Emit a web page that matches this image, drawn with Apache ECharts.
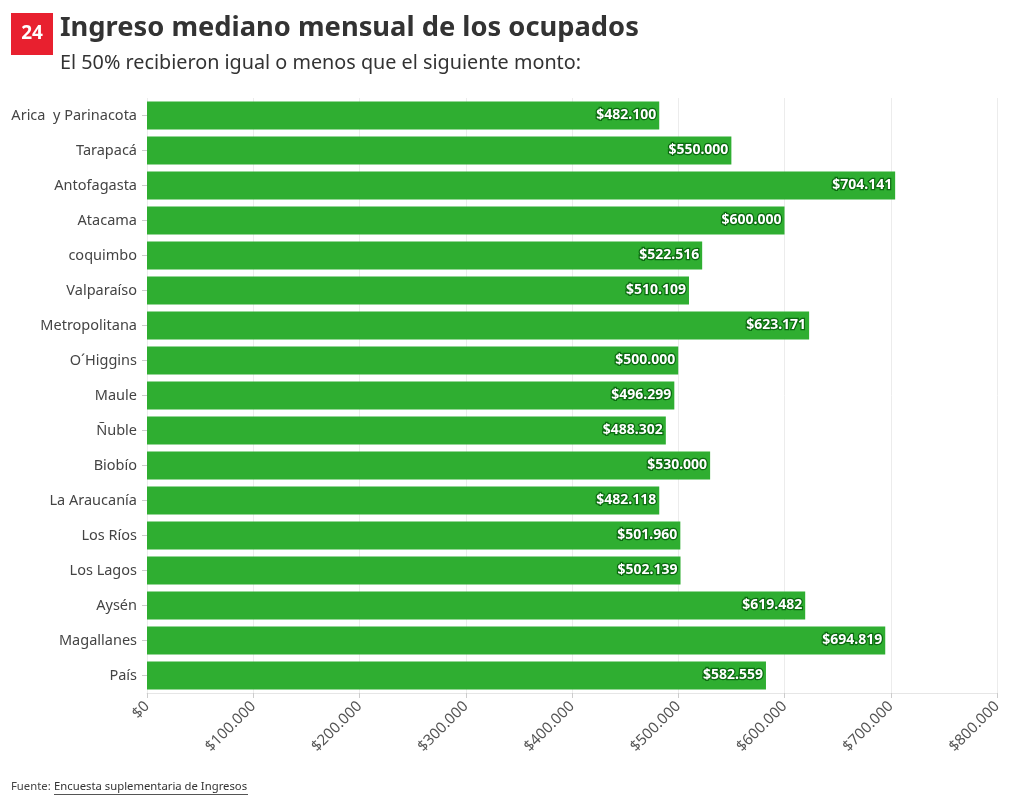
<!DOCTYPE html>
<html><head><meta charset="utf-8">
<script src="https://cdn.jsdelivr.net/npm/echarts@6/dist/echarts.min.js"></script>
<style>html,body{margin:0;padding:0;background:#fff}#c{width:1020px;height:804px}</style>
</head><body><div id="c"></div>
<script>
const categories = ["Arica  y Parinacota","Tarapacá","Antofagasta","Atacama","coquimbo","Valparaíso","Metropolitana","O´Higgins","Maule","Ñuble","Biobío","La Araucanía","Los Ríos","Los Lagos","Aysén","Magallanes","País"];
const values = [482100,550000,704141,600000,522516,510109,623171,500000,496299,488302,530000,482118,501960,502139,619482,694819,582559];
const xTicks = [0,100000,200000,300000,400000,500000,600000,700000,800000];

const FONT = '"Noto Sans", sans-serif';
function money(v){ return '$' + Math.round(v).toString().replace(/\B(?=(\d{3})+(?!\d))/g, '.'); }

const chart = echarts.init(document.getElementById('c'), null, {renderer:'canvas'});
chart.setOption({
  animation:false,
  backgroundColor:'#fff',
  textStyle:{fontFamily:FONT},
  grid:{left:147,right:23,top:98,bottom:111,containLabel:false},
  xAxis:{
    type:'value', min:xTicks[0], max:xTicks[xTicks.length-1], interval:100000,
    axisLine:{show:true,lineStyle:{color:'#e6e6e6'}},
    axisTick:{show:true,length:5,lineStyle:{color:'#cccccc'}},
    splitLine:{show:true,lineStyle:{color:'#ececec'}},
    axisLabel:{rotate:45,color:'#555',fontSize:15,fontFamily:FONT,margin:11,formatter:money}
  },
  yAxis:{
    type:'category', data:categories, inverse:true,
    axisLine:{show:false},
    axisTick:{show:true,length:5,alignWithLabel:true,lineStyle:{color:'#cccccc'}},
    axisLabel:{color:'#444',fontSize:14.5,fontFamily:FONT,margin:10}
  },
  series:[{
    type:'bar', data:values, barCategoryGap:'20%',
    itemStyle:{color:'#2fae31'},
    label:{show:true,position:'insideRight',distance:3,formatter:p=>money(p.value),
      color:'#fff',fontWeight:'bold',fontSize:14,fontFamily:FONT,
      textBorderColor:'#0b6a10',textBorderWidth:2.5}
  }],
  graphic:[
    {type:'rect',shape:{x:11,y:13,width:42,height:42},style:{fill:'#e8202f'}},
    {type:'text',x:32,y:34,style:{text:'24',fill:'#fff',font:'bold 19px '+FONT,align:'center',verticalAlign:'middle'}},
    {type:'text',x:60,y:28,style:{text:'Ingreso mediano mensual de los ocupados',fill:'#333',font:'bold 27.3px '+FONT,verticalAlign:'middle'}},
    {type:'text',x:60,y:63,style:{text:'El 50% recibieron igual o menos que el siguiente monto:',fill:'#333',font:'19.8px '+FONT,verticalAlign:'middle'}},
    {type:'text',x:11,y:787,style:{text:'Fuente:',fill:'#444',font:'11.3px '+FONT,verticalAlign:'middle'}},
    {type:'text',x:54,y:787,style:{text:'Encuesta suplementaria de Ingresos',fill:'#333',font:'11.3px '+FONT,verticalAlign:'middle'}},
    {type:'line',shape:{x1:54,y1:794.5,x2:248,y2:794.5},style:{stroke:'#555',lineWidth:1}}
  ]
});
</script></body></html>
